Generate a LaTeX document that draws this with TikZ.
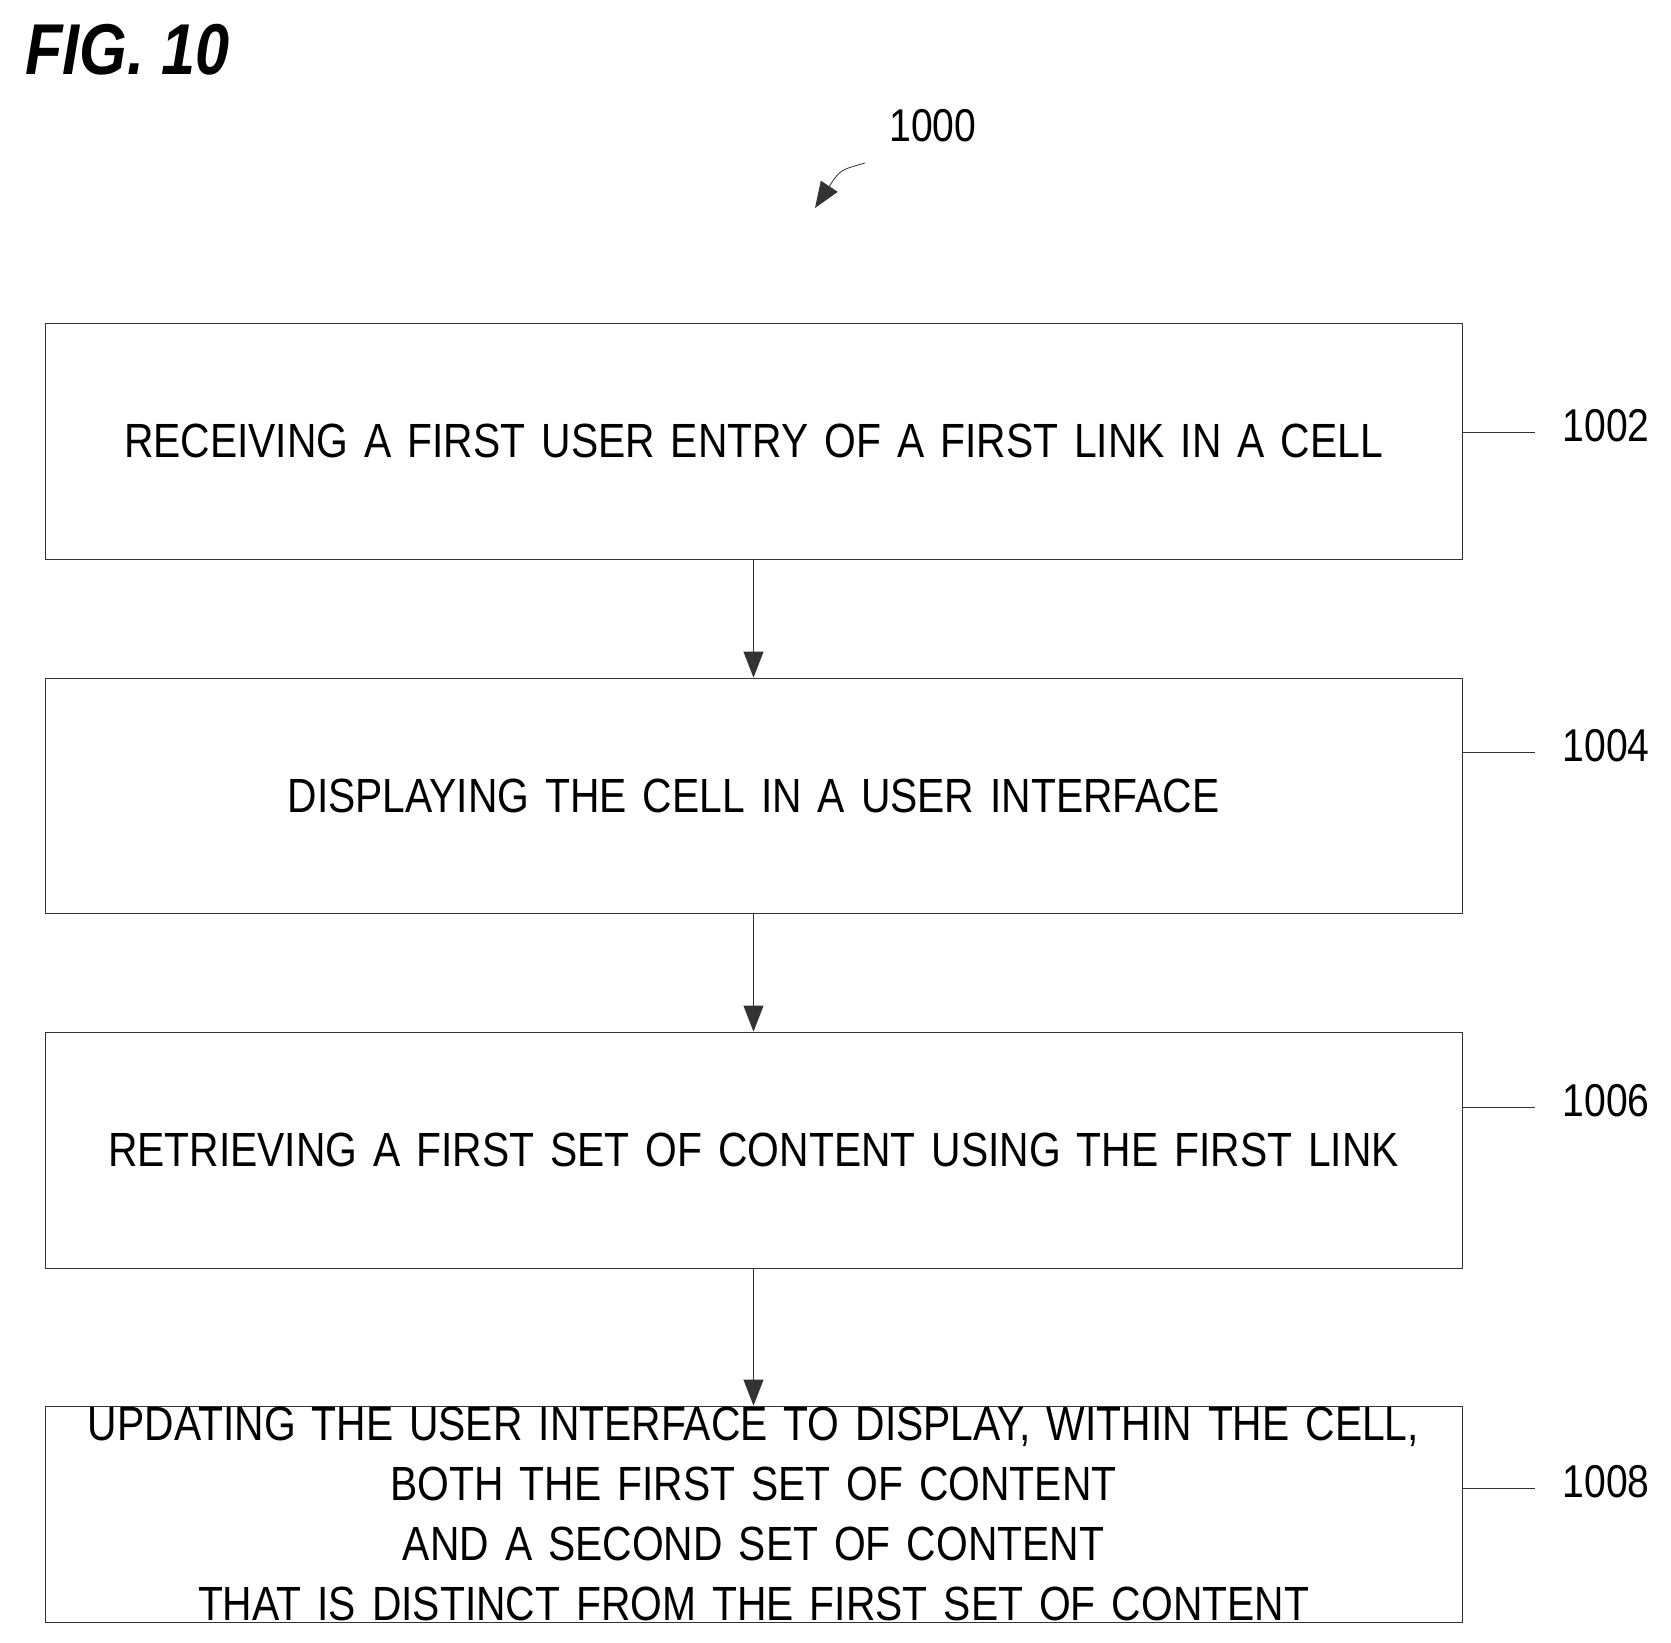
\documentclass[tikz,border=0pt]{standalone}
\usepackage{fontspec}
\setmainfont{Liberation Sans}[FakeStretch=0.85]
\usetikzlibrary{arrows.meta}

\tikzset{
  stepbox/.style={draw=black!80,thin,text width=700pt,minimum width=708.5pt,inner sep=0pt,align=center,
    font=\fontsize{24}{30}\selectfont},
  ref/.style={font=\fontsize{23}{28}\selectfont},
  flow/.style={draw=black!80,thin,-{Triangle[length=13pt,width=10pt]}},
}

\begin{document}
\begin{tikzpicture}[x=0.5pt,y=-0.5pt]
  \useasboundingbox (0,0) rectangle (1671,1643);
  \node[anchor=west,font=\fontsize{36}{40}\selectfont\bfseries\itshape] (fig) at (18,50) {FIG. 10};
  \node[ref] (n1000) at (933,126) {1000};
  \coordinate (a1000) at (815,208);
  \draw[flow] (865,163) .. controls (840,170) .. (a1000);

  % steps
  \node[stepbox,minimum height=118pt] (s1002) at (753.5,441) {RECEIVING A FIRST USER ENTRY OF A FIRST LINK IN A CELL};
  \node[stepbox,minimum height=117.5pt] (s1004) at (753.5,795.5) {DISPLAYING THE CELL IN A USER INTERFACE};
  \node[stepbox,minimum height=118pt] (s1006) at (753.5,1150) {RETRIEVING A FIRST SET OF CONTENT USING THE FIRST LINK};
  \node[stepbox,minimum height=108pt] (s1008) at (753.5,1514) {UPDATING THE USER INTERFACE TO DISPLAY, WITHIN THE CELL,\\
    BOTH THE FIRST SET OF CONTENT AND A SECOND SET OF CONTENT\\
    THAT IS DISTINCT FROM THE FIRST SET OF CONTENT};

  \draw[flow] (s1002) -- (s1004);
  \draw[flow] (s1004) -- (s1006);
  \draw[flow] (s1006) -- (s1008);

  % reference numbers
  \foreach \s/\y in {1002/426,1004/746,1006/1101,1008/1482}{
    \node[ref] (r\s) at (1606,\y) {\s};
    \draw[thin,black!80] (s\s.east |- 0,\y+6) -- ([xshift=-10pt]r\s.west |- 0,\y+6);
  }
\end{tikzpicture}
\end{document}
